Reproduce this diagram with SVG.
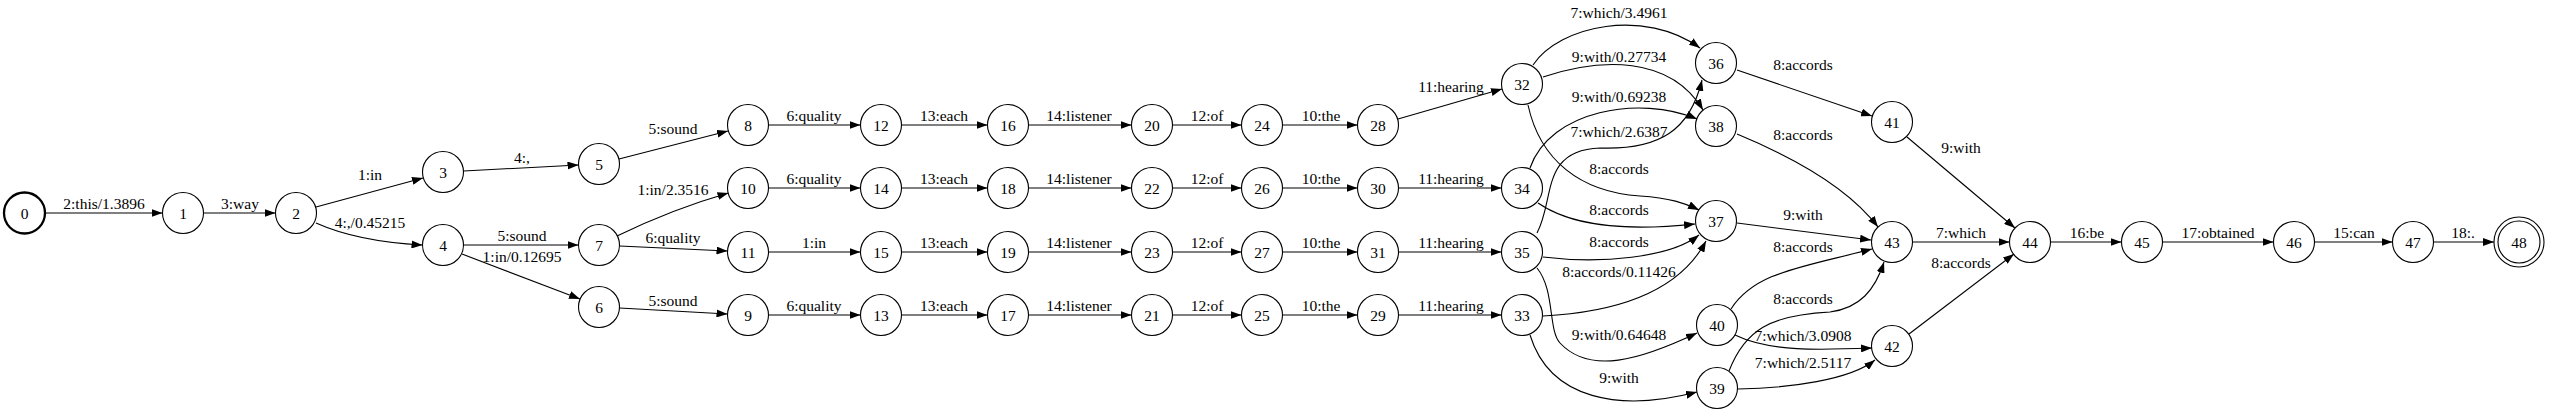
<svg xmlns="http://www.w3.org/2000/svg" width="2550" height="414" viewBox="0 0 2550 414">
<style>
text{font-family:"Liberation Serif","Times New Roman",serif;font-size:15.5px;fill:#000;text-anchor:middle}
.n circle{fill:none;stroke:#000;stroke-width:1.1}
.e path{fill:none;stroke:#000;stroke-width:1.1;marker-end:url(#arr)}
</style>
<defs>
<marker id="arr" viewBox="0 0 11 8" refX="11" refY="4" markerWidth="11" markerHeight="8" markerUnits="userSpaceOnUse" orient="auto">
<path d="M0,0 L11,4 L0,8 Z" fill="#000"/>
</marker>
</defs>
<rect width="2550" height="414" fill="#fff"/>
<g id="connectors" class="e">
<path d="M45,213 L162.5,213"/><text x="104" y="209">2:this/1.3896</text>
<path d="M203.5,213 L275.5,213"/><text x="240" y="209">3:way</text>
<path d="M316,207 L423,178"/><text x="370" y="180">1:in</text>
<path d="M316,223 C345,236 385,243 422.5,245"/><text x="370" y="228">4:,/0.45215</text>
<path d="M463.5,171 L578.5,165"/><text x="522" y="163">4:,</text>
<path d="M619,159 L728,131"/><text x="673" y="134">5:sound</text>
<path d="M463.5,245 L578.5,245"/><text x="522" y="241">5:sound</text>
<path d="M462,254 L580,299"/><text x="522" y="262">1:in/0.12695</text>
<path d="M617,236 C650,220 690,204 728.5,193"/><text x="673" y="195">1:in/2.3516</text>
<path d="M619.5,246 L727.5,251"/><text x="673" y="243">6:quality</text>
<path d="M619.5,308 L727.5,314"/><text x="673" y="306">5:sound</text>
<path d="M768.5,125 L860.5,125"/><text x="814" y="121">6:quality</text>
<path d="M768.5,188 L860.5,188"/><text x="814" y="184">6:quality</text>
<path d="M768.5,252 L860.5,252"/><text x="814" y="248">1:in</text>
<path d="M768.5,315 L860.5,315"/><text x="814" y="311">6:quality</text>
<path d="M901.5,125 L987.5,125"/><text x="944" y="121">13:each</text>
<path d="M901.5,188 L987.5,188"/><text x="944" y="184">13:each</text>
<path d="M901.5,252 L987.5,252"/><text x="944" y="248">13:each</text>
<path d="M901.5,315 L987.5,315"/><text x="944" y="311">13:each</text>
<path d="M1028.5,125 L1131.5,125"/><text x="1079" y="121">14:listener</text>
<path d="M1028.5,188 L1131.5,188"/><text x="1079" y="184">14:listener</text>
<path d="M1028.5,252 L1131.5,252"/><text x="1079" y="248">14:listener</text>
<path d="M1028.5,315 L1131.5,315"/><text x="1079" y="311">14:listener</text>
<path d="M1172.5,125 L1241.5,125"/><text x="1207" y="121">12:of</text>
<path d="M1172.5,188 L1241.5,188"/><text x="1207" y="184">12:of</text>
<path d="M1172.5,252 L1241.5,252"/><text x="1207" y="248">12:of</text>
<path d="M1172.5,315 L1241.5,315"/><text x="1207" y="311">12:of</text>
<path d="M1282.5,125 L1357.5,125"/><text x="1321" y="121">10:the</text>
<path d="M1282.5,188 L1357.5,188"/><text x="1321" y="184">10:the</text>
<path d="M1282.5,252 L1357.5,252"/><text x="1321" y="248">10:the</text>
<path d="M1282.5,315 L1357.5,315"/><text x="1321" y="311">10:the</text>
<path d="M1398,119 L1502,89"/><text x="1451" y="92">11:hearing</text>
<path d="M1398.5,188 L1501.5,188"/><text x="1451" y="184">11:hearing</text>
<path d="M1398.5,252 L1501.5,252"/><text x="1451" y="248">11:hearing</text>
<path d="M1398.5,315 L1501.5,315"/><text x="1451" y="311">11:hearing</text>
<path d="M1533,65 C1560,25 1645,8 1700,48"/><text x="1619" y="18">7:which/3.4961</text>
<path d="M1543,77 C1600,58 1670,55 1703,110"/><text x="1619" y="62">9:with/0.27734</text>
<path d="M1530,168 C1550,110 1640,95 1697,119"/><text x="1619" y="102">9:with/0.69238</text>
<path d="M1537,233 C1555,200 1540,150 1600,148 C1660,150 1690,130 1702,80"/><text x="1619" y="137">7:which/2.6387</text>
<path d="M1528,105 C1540,160 1580,192 1640,196 C1670,198 1685,203 1699,210"/><text x="1619" y="174">8:accords</text>
<path d="M1538,203 C1570,225 1620,232 1695,224"/><text x="1619" y="215">8:accords</text>
<path d="M1543,257 C1600,264 1670,258 1699,235"/><text x="1619" y="247">8:accords</text>
<path d="M1543,316 C1620,312 1680,290 1706,241"/><text x="1619" y="277">8:accords/0.11426</text>
<path d="M1537,268 C1555,290 1548,330 1560,343 C1590,375 1640,360 1697,333"/><text x="1619" y="340">9:with/0.64648</text>
<path d="M1530,335 C1550,400 1620,412 1697,392"/><text x="1619" y="383">9:with</text>
<path d="M1737,70 L1872,116"/><text x="1803" y="70">8:accords</text>
<path d="M1737,134 C1800,160 1850,190 1878,227"/><text x="1803" y="140">8:accords</text>
<path d="M1737,223 L1871,240"/><text x="1803" y="220">9:with</text>
<path d="M1731,309 C1755,272 1800,268 1872,249"/><text x="1803" y="252">8:accords</text>
<path d="M1729,371 C1745,330 1770,315 1830,312 C1860,308 1875,290 1884,262"/><text x="1803" y="304">8:accords</text>
<path d="M1735,335 C1770,352 1820,350 1872,348"/><text x="1803" y="341">7:which/3.0908</text>
<path d="M1738,389 C1790,388 1850,380 1875,360"/><text x="1803" y="368">7:which/2.5117</text>
<path d="M1907,137 L2015,228"/><text x="1961" y="153">9:with</text>
<path d="M1912.5,242 L2009.5,242"/><text x="1961" y="238">7:which</text>
<path d="M1909,334 L2014,254"/><text x="1961" y="268">8:accords</text>
<path d="M2050.5,242 L2121.5,242"/><text x="2087" y="238">16:be</text>
<path d="M2162.5,242 L2273.5,242"/><text x="2218" y="238">17:obtained</text>
<path d="M2314.5,242 L2392.5,242"/><text x="2354" y="238">15:can</text>
<path d="M2433.5,242 L2494,242"/><text x="2463" y="238">18:.</text>
</g>
<g id="node0" class="n"><circle cx="24.5" cy="213" r="20.5" style="stroke-width:2.3"/><text x="24.5" y="218.5">0</text></g>
<g id="node1" class="n"><circle cx="183" cy="213" r="20.5"/><text x="183" y="218.5">1</text></g>
<g id="node2" class="n"><circle cx="296" cy="213" r="20.5"/><text x="296" y="218.5">2</text></g>
<g id="node3" class="n"><circle cx="443" cy="172" r="20.5"/><text x="443" y="177.5">3</text></g>
<g id="node4" class="n"><circle cx="443" cy="245" r="20.5"/><text x="443" y="250.5">4</text></g>
<g id="node5" class="n"><circle cx="599" cy="164" r="20.5"/><text x="599" y="169.5">5</text></g>
<g id="node6" class="n"><circle cx="599" cy="307" r="20.5"/><text x="599" y="312.5">6</text></g>
<g id="node7" class="n"><circle cx="599" cy="245" r="20.5"/><text x="599" y="250.5">7</text></g>
<g id="node8" class="n"><circle cx="748" cy="125" r="20.5"/><text x="748" y="130.5">8</text></g>
<g id="node9" class="n"><circle cx="748" cy="315" r="20.5"/><text x="748" y="320.5">9</text></g>
<g id="node10" class="n"><circle cx="748" cy="188" r="20.5"/><text x="748" y="193.5">10</text></g>
<g id="node11" class="n"><circle cx="748" cy="252" r="20.5"/><text x="748" y="257.5">11</text></g>
<g id="node12" class="n"><circle cx="881" cy="125" r="20.5"/><text x="881" y="130.5">12</text></g>
<g id="node13" class="n"><circle cx="881" cy="315" r="20.5"/><text x="881" y="320.5">13</text></g>
<g id="node14" class="n"><circle cx="881" cy="188" r="20.5"/><text x="881" y="193.5">14</text></g>
<g id="node15" class="n"><circle cx="881" cy="252" r="20.5"/><text x="881" y="257.5">15</text></g>
<g id="node16" class="n"><circle cx="1008" cy="125" r="20.5"/><text x="1008" y="130.5">16</text></g>
<g id="node17" class="n"><circle cx="1008" cy="315" r="20.5"/><text x="1008" y="320.5">17</text></g>
<g id="node18" class="n"><circle cx="1008" cy="188" r="20.5"/><text x="1008" y="193.5">18</text></g>
<g id="node19" class="n"><circle cx="1008" cy="252" r="20.5"/><text x="1008" y="257.5">19</text></g>
<g id="node20" class="n"><circle cx="1152" cy="125" r="20.5"/><text x="1152" y="130.5">20</text></g>
<g id="node21" class="n"><circle cx="1152" cy="315" r="20.5"/><text x="1152" y="320.5">21</text></g>
<g id="node22" class="n"><circle cx="1152" cy="188" r="20.5"/><text x="1152" y="193.5">22</text></g>
<g id="node23" class="n"><circle cx="1152" cy="252" r="20.5"/><text x="1152" y="257.5">23</text></g>
<g id="node24" class="n"><circle cx="1262" cy="125" r="20.5"/><text x="1262" y="130.5">24</text></g>
<g id="node25" class="n"><circle cx="1262" cy="315" r="20.5"/><text x="1262" y="320.5">25</text></g>
<g id="node26" class="n"><circle cx="1262" cy="188" r="20.5"/><text x="1262" y="193.5">26</text></g>
<g id="node27" class="n"><circle cx="1262" cy="252" r="20.5"/><text x="1262" y="257.5">27</text></g>
<g id="node28" class="n"><circle cx="1378" cy="125" r="20.5"/><text x="1378" y="130.5">28</text></g>
<g id="node29" class="n"><circle cx="1378" cy="315" r="20.5"/><text x="1378" y="320.5">29</text></g>
<g id="node30" class="n"><circle cx="1378" cy="188" r="20.5"/><text x="1378" y="193.5">30</text></g>
<g id="node31" class="n"><circle cx="1378" cy="252" r="20.5"/><text x="1378" y="257.5">31</text></g>
<g id="node32" class="n"><circle cx="1522" cy="84" r="20.5"/><text x="1522" y="89.5">32</text></g>
<g id="node33" class="n"><circle cx="1522" cy="315" r="20.5"/><text x="1522" y="320.5">33</text></g>
<g id="node34" class="n"><circle cx="1522" cy="188" r="20.5"/><text x="1522" y="193.5">34</text></g>
<g id="node35" class="n"><circle cx="1522" cy="252" r="20.5"/><text x="1522" y="257.5">35</text></g>
<g id="node36" class="n"><circle cx="1716" cy="63" r="20.5"/><text x="1716" y="68.5">36</text></g>
<g id="node37" class="n"><circle cx="1716" cy="221" r="20.5"/><text x="1716" y="226.5">37</text></g>
<g id="node38" class="n"><circle cx="1716" cy="126" r="20.5"/><text x="1716" y="131.5">38</text></g>
<g id="node39" class="n"><circle cx="1717" cy="388" r="20.5"/><text x="1717" y="393.5">39</text></g>
<g id="node40" class="n"><circle cx="1717" cy="325" r="20.5"/><text x="1717" y="330.5">40</text></g>
<g id="node41" class="n"><circle cx="1892" cy="122" r="20.5"/><text x="1892" y="127.5">41</text></g>
<g id="node42" class="n"><circle cx="1892" cy="346" r="20.5"/><text x="1892" y="351.5">42</text></g>
<g id="node43" class="n"><circle cx="1892" cy="242" r="20.5"/><text x="1892" y="247.5">43</text></g>
<g id="node44" class="n"><circle cx="2030" cy="242" r="20.5"/><text x="2030" y="247.5">44</text></g>
<g id="node45" class="n"><circle cx="2142" cy="242" r="20.5"/><text x="2142" y="247.5">45</text></g>
<g id="node46" class="n"><circle cx="2294" cy="242" r="20.5"/><text x="2294" y="247.5">46</text></g>
<g id="node47" class="n"><circle cx="2413" cy="242" r="20.5"/><text x="2413" y="247.5">47</text></g>
<g id="node48" class="n"><circle cx="2519" cy="242" r="21"/><circle cx="2519" cy="242" r="25"/><text x="2519" y="247.5">48</text></g>
</svg>
